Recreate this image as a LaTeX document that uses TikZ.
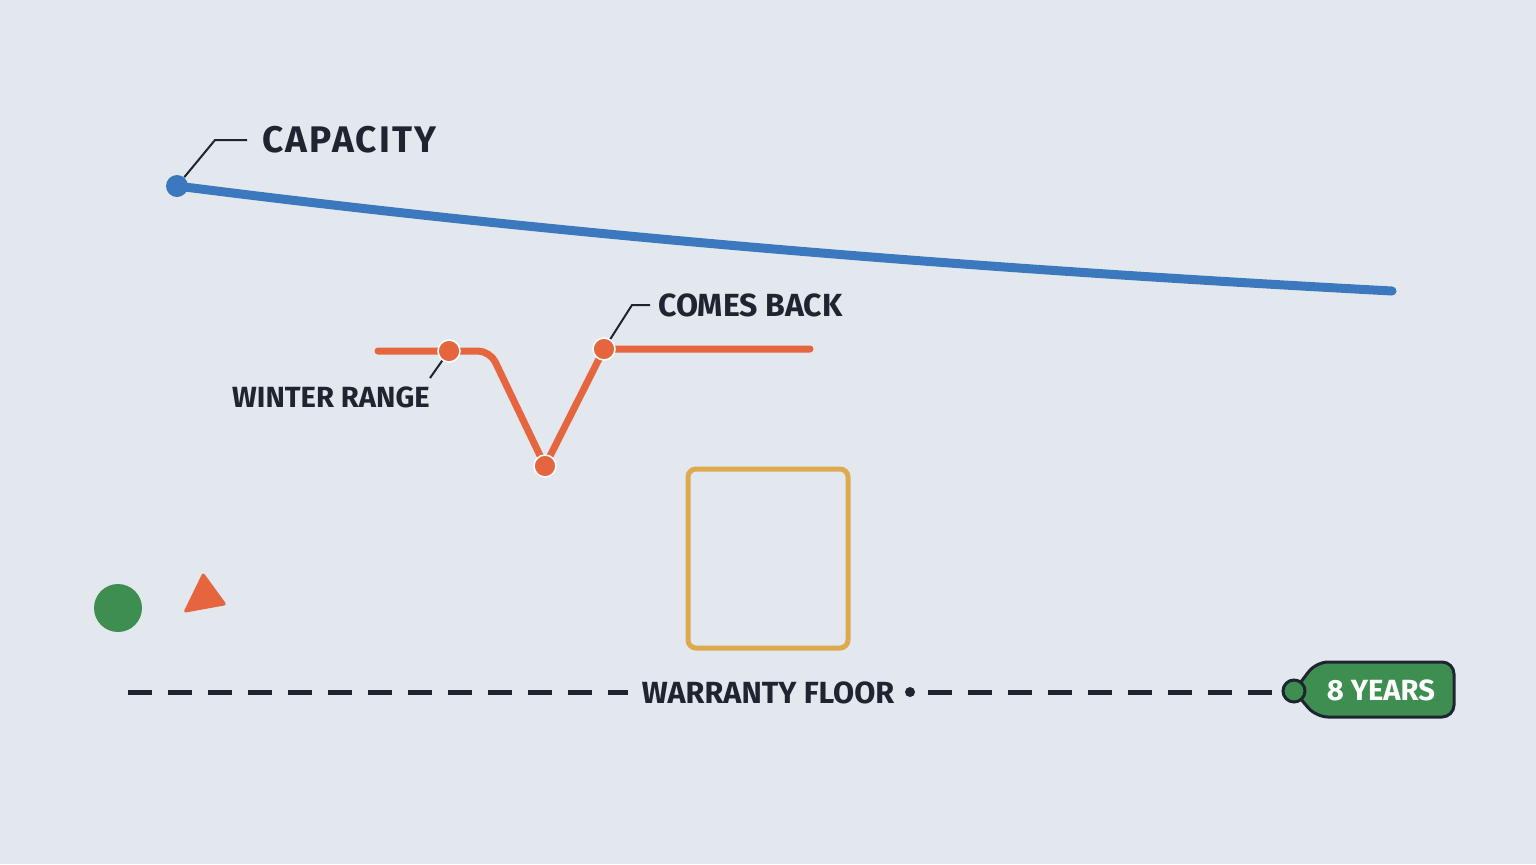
\documentclass[tikz,border=0pt]{standalone}
\usepackage{fontspec}
\setmainfont{Fira Sans}
\definecolor{bgcol}{HTML}{E3E8EE}
\definecolor{inkcol}{HTML}{1E2530}
\definecolor{bluecol}{HTML}{3B78BD}
\definecolor{redcol}{HTML}{E5653F}
\definecolor{goldcol}{HTML}{DDAA50}
\definecolor{greencol}{HTML}{3E8E52}
\tikzset{
  lbl/.style={font=\fontsize{16}{18}\selectfont\bfseries, text=inkcol, inner sep=0pt},
  leader/.style={draw=inkcol, line width=1pt},
  rdot/.style={circle, fill=redcol, draw=white, line width=0.8pt, minimum size=11pt, inner sep=0pt},
}
\begin{document}
\begin{tikzpicture}[x=0.5pt,y=-0.5pt]
		\fill[bgcol] (0,0) rectangle (1536,864);
		\useasboundingbox (0,0) rectangle (1536,864);

		% capacity curve
		\coordinate (capA) at (177,186);
		\coordinate (capB) at (1392,291);
		\draw[bluecol, line width=4.5pt, line cap=round] (capA) .. controls (600,240) and (1000,270) .. (capB);
		\node[circle, fill=bluecol, minimum size=11pt, inner sep=0pt] (capdot) at (capA) {};
		\node[lbl, anchor=west, font=\fontsize{18.5}{20}\selectfont\bfseries\addfontfeature{LetterSpace=6}] (caplbl) at (262,140) {CAPACITY};
		\coordinate (capK) at (215,140);
		\draw[leader] (capdot) -- (capK) -- (247,140);

		% winter dip
		\draw[redcol, line width=3.5pt, line cap=round, rounded corners=6pt]
			(378,351) -- (490,351) -- (545,466) -- (604,349) -- (810,349);
		\node[rdot] (d1) at (449,351) {};
		\node[rdot] (d2) at (545,466) {};
		\node[rdot] (d3) at (604,349) {};
		\node[lbl, font=\fontsize{14.6}{16}\selectfont\bfseries] (winlbl) at (331,397) {WINTER RANGE};
		\draw[leader] (d1) -- (430,378);
		\node[lbl, anchor=west] (backlbl) at (658,305) {COMES BACK};
		\coordinate (backK) at (632,305);
		\draw[leader] (d3) -- (backK) -- (650,305);

		% shapes
		\draw[goldcol, line width=2.5pt, rounded corners=4pt] (688,469) rectangle (848,648);
		\node[circle, fill=greencol, minimum size=24pt, inner sep=0pt] (gdot) at (118,608) {};
		\fill[redcol, rounded corners=1.5pt] (203,572) -- (227,605) -- (183,613) -- cycle;

		% warranty floor
		\node[lbl, font=\fontsize{15.3}{17}\selectfont\bfseries] (floorlbl) at (768,693) {WARRANTY FLOOR};
		\coordinate (fl0) at (128,692);
		\draw[inkcol, line width=2.5pt, dash pattern=on 12pt off 8pt] (fl0) -- (628,692);
		\fill[inkcol] (910,692) circle (2.5pt);
		\draw[inkcol, line width=2.5pt, dash pattern=on 12pt off 8pt] (928,692) -- (1282,692);
		\filldraw[fill=greencol, draw=inkcol, line width=1.5pt, rounded corners=6pt]
			(1294,691) -- (1316,662) -- (1454,662) -- (1454,717) -- (1316,717) -- cycle;
		\node[circle, fill=greencol, draw=inkcol, line width=1.5pt, minimum size=11pt, inner sep=0pt] (tagdot) at (1294,691) {};
		\node[lbl, text=white, font=\fontsize{14.6}{16}\selectfont\bfseries] (taglbl) at (1381,690) {8 YEARS};
\end{tikzpicture}
\end{document}
